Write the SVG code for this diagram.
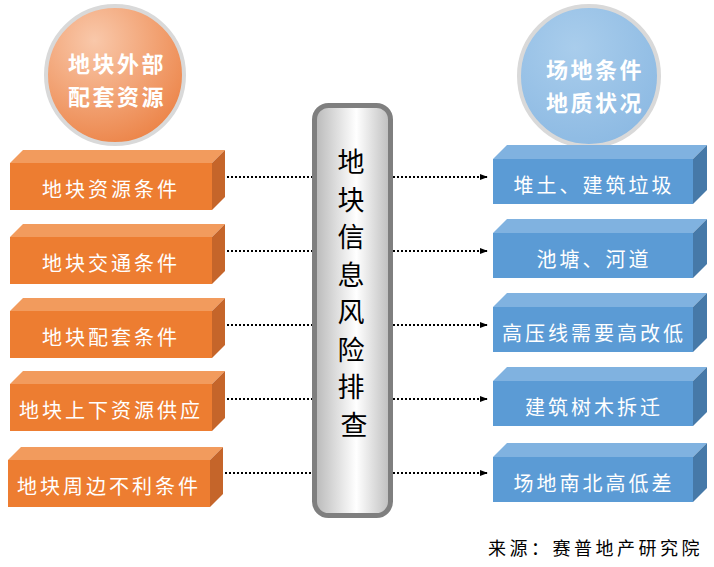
<svg xmlns="http://www.w3.org/2000/svg" width="714" height="567" viewBox="0 0 714 567">
<defs>
<radialGradient id="gOr" cx="35%" cy="25%" r="80%">
<stop offset="0" stop-color="#f9c8aa"/><stop offset="1" stop-color="#ec8448"/>
</radialGradient>
<radialGradient id="gBl" cx="40%" cy="30%" r="80%">
<stop offset="0" stop-color="#a9cdec"/><stop offset="1" stop-color="#8ab8e2"/>
</radialGradient>
<linearGradient id="gPil" x1="0" y1="0" x2="1" y2="0">
<stop offset="0" stop-color="#b8b8b8"/><stop offset="0.55" stop-color="#ffffff"/><stop offset="1" stop-color="#bdbdbd"/>
</linearGradient>
<marker id="arr" viewBox="0 0 10 10" refX="9" refY="5" markerWidth="8" markerHeight="8" markerUnits="userSpaceOnUse" orient="auto">
<path d="M0,1 L10,5 L0,9 z" fill="#000"/>
</marker>
<style>
text{font-family:"Noto Sans CJK SC","Noto Sans",sans-serif;}
.bt{fill:#fff;font-size:20px;letter-spacing:3px;text-anchor:middle;dominant-baseline:central;}
.ct{fill:#fff;font-size:22px;font-weight:bold;letter-spacing:2.5px;text-anchor:middle;dominant-baseline:central;}
.of{fill:#ed7d31}.ot{fill:#f29b5d}.os{fill:#c5652a}
.bf{fill:#5b9bd5}.btp{fill:#80b2e0}.bs{fill:#4679a8}
.con{stroke:#000;stroke-width:2;stroke-dasharray:2,2;fill:none}
</style>
</defs>

<g id="circle-left">
<circle cx="115" cy="75" r="69" fill="url(#gOr)" stroke="#d9d9d9" stroke-width="4"/>
<text class="ct" x="117" y="62">地块外部</text>
<text class="ct" x="117" y="95">配套资源</text>
</g>
<g id="circle-right">
<circle cx="589" cy="76" r="70" fill="url(#gBl)" stroke="#d9d9d9" stroke-width="4"/>
<text class="ct" x="595" y="68">场地条件</text>
<text class="ct" x="595" y="101">地质状况</text>
</g>

<g id="left1">
<polygon class="ot" points="10,163 23,150 225,150 212,163"/>
<polygon class="os" points="212,163 225,150 225,197 212,210"/>
<rect class="of" x="10" y="163" width="202" height="47"/>
<text class="bt" x="111" y="188">地块资源条件</text>
</g>
<g id="left2">
<polygon class="ot" points="10,237 23,224 225,224 212,237"/>
<polygon class="os" points="212,237 225,224 225,271 212,284"/>
<rect class="of" x="10" y="237" width="202" height="47"/>
<text class="bt" x="111" y="262">地块交通条件</text>
</g>
<g id="left3">
<polygon class="ot" points="10,311 23,298 225,298 212,311"/>
<polygon class="os" points="212,311 225,298 225,345 212,358"/>
<rect class="of" x="10" y="311" width="202" height="47"/>
<text class="bt" x="111" y="336">地块配套条件</text>
</g>
<g id="left4">
<polygon class="ot" points="10,384 23,371 225,371 212,384"/>
<polygon class="os" points="212,384 225,371 225,418 212,431"/>
<rect class="of" x="10" y="384" width="202" height="47"/>
<text class="bt" x="111" y="409">地块上下资源供应</text>
</g>
<g id="left5">
<polygon class="ot" points="8,460 21,447 223,447 210,460"/>
<polygon class="os" points="210,460 223,447 223,494 210,507"/>
<rect class="of" x="8" y="460" width="202" height="47"/>
<text class="bt" x="109" y="485">地块周边不利条件</text>
</g>

<g id="right1">
<polygon class="btp" points="493,159 507,145 707,145 693,159"/>
<polygon class="bs" points="693,159 707,145 707,190 693,204"/>
<rect class="bf" x="493" y="159" width="200" height="45"/>
<text class="bt" x="594" y="184">堆土、建筑垃圾</text>
</g>
<g id="right2">
<polygon class="btp" points="493,233 507,219 707,219 693,233"/>
<polygon class="bs" points="693,233 707,219 707,264 693,278"/>
<rect class="bf" x="493" y="233" width="200" height="45"/>
<text class="bt" x="594" y="258">池塘、河道</text>
</g>
<g id="right3">
<polygon class="btp" points="493,307 507,293 707,293 693,307"/>
<polygon class="bs" points="693,307 707,293 707,338 693,352"/>
<rect class="bf" x="493" y="307" width="200" height="45"/>
<text class="bt" x="594" y="332">高压线需要高改低</text>
</g>
<g id="right4">
<polygon class="btp" points="493,381 507,367 707,367 693,381"/>
<polygon class="bs" points="693,381 707,367 707,412 693,426"/>
<rect class="bf" x="493" y="381" width="200" height="45"/>
<text class="bt" x="594" y="406">建筑树木拆迁</text>
</g>
<g id="right5">
<polygon class="btp" points="493,457 507,443 707,443 693,457"/>
<polygon class="bs" points="693,457 707,443 707,488 693,502"/>
<rect class="bf" x="493" y="457" width="200" height="45"/>
<text class="bt" x="594" y="482">场地南北高低差</text>
</g>

<g id="center">
<rect x="314.5" y="105.5" width="76" height="410" rx="14" fill="url(#gPil)" stroke="#7f7f7f" stroke-width="5"/>
<text x="354" font-size="27" fill="#000" text-anchor="middle">
<tspan x="354" y="172">地</tspan>
<tspan x="354" y="209.5">块</tspan>
<tspan x="354" y="247">信</tspan>
<tspan x="354" y="284.5">息</tspan>
<tspan x="354" y="322">风</tspan>
<tspan x="354" y="359.5">险</tspan>
<tspan x="354" y="397">排</tspan>
<tspan x="354" y="434.5">查</tspan>
</text>
</g>

<g id="connectors">
<line class="con" x1="227" y1="177" x2="312" y2="177"/>
<line class="con" x1="227" y1="251" x2="312" y2="251"/>
<line class="con" x1="227" y1="325" x2="312" y2="325"/>
<line class="con" x1="227" y1="399" x2="312" y2="399"/>
<line class="con" x1="225" y1="473" x2="312" y2="473"/>
<line class="con" x1="393" y1="177" x2="487" y2="177" marker-end="url(#arr)"/>
<line class="con" x1="393" y1="251" x2="487" y2="251" marker-end="url(#arr)"/>
<line class="con" x1="393" y1="325" x2="487" y2="325" marker-end="url(#arr)"/>
<line class="con" x1="393" y1="399" x2="487" y2="399" marker-end="url(#arr)"/>
<line class="con" x1="393" y1="473" x2="487" y2="473" marker-end="url(#arr)"/>
</g>

<text x="488" y="555" font-size="18" fill="#000" letter-spacing="3.5">来源：赛普地产研究院</text>
</svg>
